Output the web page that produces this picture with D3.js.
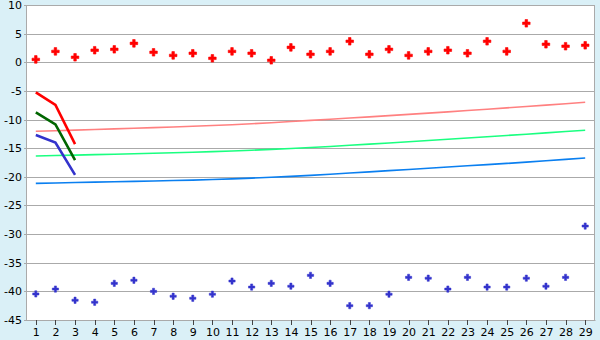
<!doctype html>
<html>
  <head>
    <meta charset="utf-8">
    <title>Chart</title>
    <script src="https://cdnjs.cloudflare.com/ajax/libs/d3/7.8.5/d3.min.js"></script>
    <style>
      body { margin: 0; background: #daf0f7; }
      text { font-family: "DejaVu Sans", Verdana, sans-serif; font-size: 11px; fill: #000; }
    </style>
  </head>
  <body>
    <div id="chart"></div>
    <script>
      // categories and tick labels
      const categories = d3.range(1, 30);
      const yTicks = [10, 5, 0, -5, -10, -15, -20, -25, -30, -35, -40, -45];

      // scattered points
      const redPoints = [0.5, 1.9, 0.87, 2.1, 2.26, 3.3, 1.74, 1.2, 1.57, 0.69, 1.9, 1.57, 0.34, 2.6, 1.39,
                         1.9, 3.66, 1.39, 2.26, 1.2, 1.9, 2.1, 1.57, 3.66, 1.9, 6.8, 3.14, 2.8, 2.96];
      const bluePoints = [-40.45, -39.6, -41.55, -41.9, -38.6, -38.06, -40, -40.85, -41.2, -40.5, -38.2, -39.25,
                          -38.6, -39.1, -37.2, -38.6, -42.5, -42.5, -40.5, -37.55, -37.7, -39.6, -37.55, -39.25,
                          -39.25, -37.7, -39.1, -37.55, -28.6];

      // short thick lines (first three categories)
      const redShort = [-5.25, -7.46, -14.3];
      const greenShort = [-8.74, -10.84, -17.07];
      const blueShort = [-12.7, -14.0, -19.65];

      // long thin lines
      const pinkLong = [-12.05, -11.95, -11.85, -11.74, -11.63, -11.52, -11.41, -11.3, -11.18, -11.05, -10.9,
                        -10.73, -10.55, -10.35, -10.15, -9.95, -9.74, -9.53, -9.32, -9.1, -8.88, -8.66, -8.43,
                        -8.2, -7.96, -7.72, -7.48, -7.24, -6.99];
      const greenLong = [-16.37, -16.29, -16.21, -16.13, -16.05, -15.97, -15.88, -15.79, -15.7, -15.6, -15.48,
                         -15.35, -15.2, -15.05, -14.88, -14.7, -14.5, -14.3, -14.1, -13.88, -13.66, -13.44,
                         -13.22, -13.0, -12.78, -12.56, -12.33, -12.1, -11.88];
      const blueLong = [-21.14, -21.07, -21.0, -20.93, -20.86, -20.79, -20.72, -20.65, -20.58, -20.48, -20.36,
                        -20.22, -20.07, -19.92, -19.75, -19.55, -19.34, -19.13, -18.92, -18.71, -18.5, -18.29,
                        -18.08, -17.87, -17.66, -17.43, -17.2, -16.96, -16.72];

      const width = 600, height = 340;
      const m = { left: 26, right: 595, top: 5, bottom: 320 };

      const svg = d3.select('#chart').append('svg')
        .attr('width', width)
        .attr('height', height)
        .style('display', 'block');

      svg.append('rect')
        .attr('width', width).attr('height', height)
        .attr('fill', '#daf0f7');

      const x = d3.scalePoint().domain(categories).range([m.left, m.right]).padding(0.5);
      const y = d3.scaleLinear().domain([-45, 10]).range([m.bottom, m.top]);

      // plot background
      svg.append('rect')
        .attr('x', m.left).attr('y', m.top)
        .attr('width', m.right - m.left).attr('height', m.bottom - m.top)
        .attr('fill', '#fff');

      // grid + y labels
      const yAxis = svg.append('g')
        .attr('transform', `translate(${m.left},0)`)
        .call(d3.axisLeft(y).tickValues(yTicks).tickSize(-(m.right - m.left)).tickSizeOuter(0).tickPadding(4)
          .tickFormat(d => String(d)));
      yAxis.select('.domain').remove();
      yAxis.selectAll('line')
        .attr('x1', -2)
        .attr('stroke', '#aaa')
        .attr('shape-rendering', 'crispEdges');
      yAxis.selectAll('text').style('font-family', '"DejaVu Sans", Verdana, sans-serif').style('font-size', '11px');

      // plot border
      svg.append('rect')
        .attr('x', m.left + 0.5).attr('y', m.top + 0.5)
        .attr('width', m.right - m.left - 1).attr('height', m.bottom - m.top)
        .attr('fill', 'none')
        .attr('stroke', '#aaa')
        .attr('shape-rendering', 'crispEdges');

      // x axis
      const xAxis = svg.append('g')
        .attr('transform', `translate(0,${m.bottom})`)
        .call(d3.axisBottom(x).tickSize(5).tickSizeOuter(0).tickPadding(3));
      xAxis.select('.domain').attr('stroke', '#aaa');
      xAxis.selectAll('line').attr('stroke', '#444').attr('shape-rendering', 'crispEdges');
      xAxis.selectAll('text').style('font-family', '"DejaVu Sans", Verdana, sans-serif').style('font-size', '11px');

      const line = d3.line()
        .x((d, i) => x(categories[i]))
        .y(d => y(d));

      const lines = [
        { data: pinkLong, color: '#ff8080', w: 1.6 },
        { data: greenLong, color: '#1aff80', w: 1.6 },
        { data: blueLong, color: '#0a7ff0', w: 1.6 },
        { data: redShort, color: '#ff0000', w: 2.6 },
        { data: greenShort, color: '#006600', w: 2.6 },
        { data: blueShort, color: '#3333cc', w: 2.6 }
      ];

      svg.selectAll('path.series')
        .data(lines)
        .join('path')
        .attr('class', 'series')
        .attr('d', d => line(d.data))
        .attr('fill', 'none')
        .attr('stroke', d => d.color)
        .attr('stroke-width', d => d.w);

      // markers
      svg.selectAll('path.red')
        .data(redPoints)
        .join('path')
        .attr('class', 'red')
        .attr('transform', (d, i) => `translate(${x(categories[i])},${y(d)})`)
        .attr('d', d3.symbol(d3.symbolCross, 32))
        .attr('fill', '#ff0000')
        .attr('stroke', '#ff0000')
        .attr('stroke-width', 0.6);

      svg.selectAll('path.blue')
        .data(bluePoints)
        .join('path')
        .attr('class', 'blue')
        .attr('transform', (d, i) => `translate(${x(categories[i])},${y(d)})`)
        .attr('d', d3.symbol(d3.symbolCross, 22))
        .attr('fill', '#3333cc')
        .attr('stroke', '#3333cc')
        .attr('stroke-width', 0.5);
    </script>
  </body>
</html>
